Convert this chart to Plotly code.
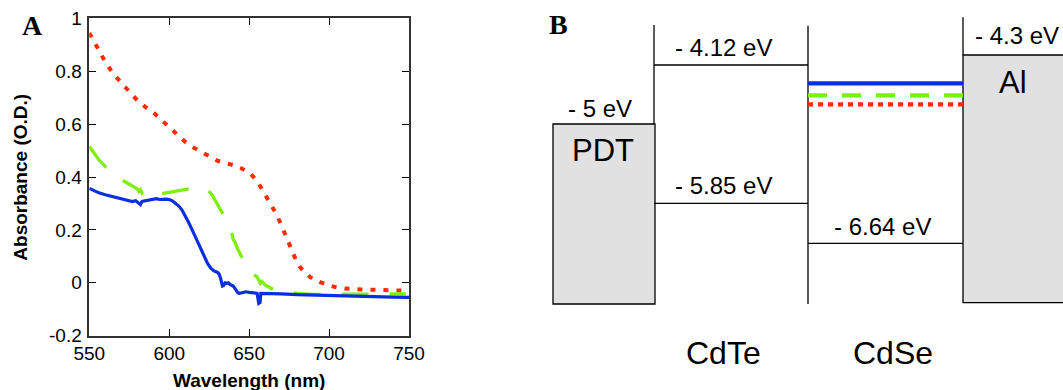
import plotly.graph_objects as go

# ---------------- Panel A data: absorbance spectra ----------------
red_wl = [550, 555, 560, 565, 570, 575, 580, 585, 590, 595, 600, 605, 610, 615, 620, 625, 630,
          635, 640, 645, 650, 655, 658, 661, 664, 667, 670, 673, 676, 679, 682, 685, 688, 692,
          696, 700, 705, 710, 720, 730, 740, 748]
red_abs = [0.945, 0.89, 0.835, 0.79, 0.755, 0.72, 0.69, 0.665, 0.645, 0.615, 0.59, 0.56, 0.533,
           0.512, 0.495, 0.478, 0.462, 0.453, 0.445, 0.433, 0.418, 0.385, 0.355, 0.325, 0.29,
           0.26, 0.22, 0.175, 0.13, 0.09, 0.058, 0.04, 0.022, 0.008, -0.003, -0.01, -0.018,
           -0.022, -0.025, -0.027, -0.029, -0.03]

green_wl = [550, 553, 556, 560, 563, 567, 570, 573, 576, 578, 580, 581, 582, 583, 584, 586, 588,
            592, 596, 600, 605, 610, 615, 620, 624, 627, 629, 631, 633, 635, 637, 639, 640, 641,
            643, 645, 647, 649, 651, 653, 655, 656, 657, 658, 660, 662, 665, 670, 675, 680, 690,
            700, 710, 720, 730, 740, 748]
green_abs = [0.515, 0.49, 0.465, 0.44, 0.425, 0.405, 0.39, 0.38, 0.37, 0.362, 0.355, 0.345, 0.352,
             0.34, 0.348, 0.338, 0.34, 0.338, 0.338, 0.342, 0.348, 0.353, 0.358, 0.36, 0.352,
             0.33, 0.31, 0.29, 0.27, 0.245, 0.22, 0.19, 0.165, 0.155, 0.125, 0.1, 0.078, 0.06,
             0.045, 0.03, 0.022, 0.01, -0.002, 0.005, -0.008, -0.015, -0.025, -0.032, -0.036,
             -0.04, -0.044, -0.043, -0.042, -0.042, -0.042, -0.042, -0.042]

blue_wl = [550, 553, 556, 560, 565, 570, 574, 577, 579, 581, 582, 583, 585, 588, 590, 592, 594,
           596, 598, 600, 602, 604, 606, 608, 610, 612, 614, 616, 618, 620, 622, 624, 626, 628,
           630, 631, 632, 632.7, 633.3, 634, 635, 636, 637, 638, 639, 640, 641, 642, 643, 644,
           646, 648, 650, 652, 654, 655, 656, 656.8, 657.3, 660, 670, 680, 690, 700, 710, 720,
           730, 740, 750]
blue_abs = [0.357, 0.347, 0.34, 0.333, 0.325, 0.318, 0.312, 0.307, 0.31, 0.303, 0.296, 0.308,
            0.31, 0.312, 0.314, 0.318, 0.315, 0.317, 0.316, 0.315, 0.31, 0.3, 0.29, 0.275, 0.255,
            0.23, 0.205, 0.178, 0.15, 0.12, 0.095, 0.073, 0.055, 0.045, 0.04, 0.035, 0.02, -0.005,
            -0.012, -0.01, 0.0, -0.002, 0.0, -0.006, -0.008, -0.012, -0.02, -0.03, -0.038, -0.04,
            -0.038, -0.034, -0.036, -0.038, -0.04, -0.04, -0.078, -0.075, -0.04, -0.04, -0.042,
            -0.045, -0.047, -0.048, -0.05, -0.051, -0.052, -0.054, -0.055]

x_ticks = [550, 600, 650, 700, 750]
y_ticks = [-0.2, 0, 0.2, 0.4, 0.6, 0.8, 1]
y_tick_text = ["-0.2", "0", "0.2", "0.4", "0.6", "0.8", "1"]

RED = "#ff2a00"
GREEN = "#80ee10"
BLUE = "#0a2ee0"

# ---------------- Panel B data: schematic energy diagram ----------------
# schematic positions (diagram units; not to scale, as in the original sketch)
layer_names = ["PDT", "CdTe", "CdSe", "Al"]
layer_left = [553, 654, 808, 963]
layer_right = [655, 808, 963, 1075]
diagram_top = [25, 25, 25.7, 17.3]
diagram_bottom = [304, 304, 304, 302.7]
pdt_level_label, pdt_level_y = "- 5 eV", 124
al_level_label, al_level_y = "- 4.3 eV", 55
cdte_levels = [("- 4.12 eV", 65), ("- 5.85 eV", 203.3)]
cdse_vb_label, cdse_vb_y = "- 6.64 eV", 243.3
cdse_cb_y = [83.3, 95.3, 104.3]          # blue, green, red samples
cdse_cb_colors = [BLUE, GREEN, RED]
cdse_cb_dash = ["solid", "19px,15px", "5px,5px"]

FONT = "Liberation Sans, Arial, Helvetica, sans-serif"

fig = go.Figure()
fig.add_trace(go.Scatter(x=red_wl, y=red_abs, mode="lines",
                         line=dict(color=RED, width=4, dash="5px,8px"), showlegend=False))
fig.add_trace(go.Scatter(x=green_wl, y=green_abs, mode="lines",
                         line=dict(color=GREEN, width=3.3, dash="27px,21px"), showlegend=False))
fig.add_trace(go.Scatter(x=blue_wl, y=blue_abs, mode="lines",
                         line=dict(color=BLUE, width=3.2), showlegend=False))

W, H = 1063, 390
fig.update_layout(
    template="none",
    width=W, height=H, margin=dict(l=0, r=0, t=0, b=0, pad=0, autoexpand=False),
    paper_bgcolor="white", plot_bgcolor="white",
    font=dict(family=FONT, color="black", size=19),
    xaxis=dict(domain=[89.3 / W, 409 / W], range=[550, 750], tickvals=x_ticks,
               ticks="inside", ticklen=7, tickcolor="black", showline=True,
               linecolor="#333", linewidth=1.5, mirror="ticks", showgrid=False,
               zeroline=False, tickfont=dict(size=19), anchor="y", automargin=False),
    yaxis=dict(domain=[(H - 335.7) / H, (H - 18.3) / H], range=[-0.2, 1],
               tickvals=y_ticks, ticktext=y_tick_text, ticklabelstandoff=2,
               ticks="inside", ticklen=7, tickcolor="black", showline=True,
               linecolor="#333", linewidth=1.5, mirror="ticks", showgrid=False,
               zeroline=False, tickfont=dict(size=19), anchor="x", automargin=False),
    xaxis2=dict(domain=[540 / W, 1], range=[540, 1063], visible=False, anchor="y2",
                automargin=False),
    yaxis2=dict(domain=[0, 1], range=[390, 0], visible=False, anchor="x2",
                automargin=False),
)

ann = []
# panel A titles
ann.append(dict(text="<b>Wavelength (nm)</b>", x=(89.3 + 409) / 2 / W, y=1 - 380 / H,
                xref="paper", yref="paper", showarrow=False, font=dict(size=19),
                xanchor="center", yanchor="middle"))
ann.append(dict(text="<b>Absorbance (O.D.)</b>", x=20.7 / W, y=1 - 177 / H, textangle=-90,
                xref="paper", yref="paper", showarrow=False, font=dict(size=19),
                xanchor="center", yanchor="middle"))
ann.append(dict(text="<b>A</b>", x=32 / W, y=1 - 26 / H, xref="paper", yref="paper",
                showarrow=False, font=dict(size=28, family="Liberation Serif, Times New Roman, serif"),
                xanchor="center", yanchor="middle"))
ann.append(dict(text="<b>B</b>", x=558 / W, y=1 - 25 / H, xref="paper", yref="paper",
                showarrow=False, font=dict(size=28, family="Liberation Serif, Times New Roman, serif"),
                xanchor="center", yanchor="middle"))

shapes = []
LINE = dict(color="black", width=1.3)
# PDT box
shapes.append(dict(type="rect", xref="x2", yref="y2", x0=layer_left[0], x1=layer_right[0],
                   y0=pdt_level_y, y1=diagram_bottom[0], fillcolor="#e1e1e1", line=LINE, layer="below"))
# Al box
shapes.append(dict(type="rect", xref="x2", yref="y2", x0=layer_left[3], x1=layer_right[3],
                   y0=al_level_y, y1=diagram_bottom[3], fillcolor="#e1e1e1", line=LINE, layer="below"))
# vertical boundaries
shapes.append(dict(type="line", xref="x2", yref="y2", x0=layer_left[1], x1=layer_left[1],
                   y0=diagram_top[1], y1=pdt_level_y, line=LINE))
shapes.append(dict(type="line", xref="x2", yref="y2", x0=layer_left[2], x1=layer_left[2],
                   y0=diagram_top[2], y1=diagram_bottom[2], line=LINE))
shapes.append(dict(type="line", xref="x2", yref="y2", x0=layer_left[3], x1=layer_left[3],
                   y0=diagram_top[3], y1=al_level_y, line=LINE))
# CdTe levels
for lab, yv in cdte_levels:
    shapes.append(dict(type="line", xref="x2", yref="y2", x0=layer_left[1], x1=layer_right[1],
                       y0=yv, y1=yv, line=LINE))
    ann.append(dict(text=lab, x=(layer_left[1] + layer_right[1]) / 2 - 8, y=yv - 18,
                    xref="x2", yref="y2", showarrow=False, font=dict(size=24),
                    xanchor="center", yanchor="middle"))
# CdSe VB
shapes.append(dict(type="line", xref="x2", yref="y2", x0=layer_left[2], x1=layer_right[2],
                   y0=cdse_vb_y, y1=cdse_vb_y, line=LINE))
ann.append(dict(text=cdse_vb_label, x=(layer_left[2] + layer_right[2]) / 2 - 3.5, y=cdse_vb_y - 17,
                xref="x2", yref="y2", showarrow=False, font=dict(size=24),
                xanchor="center", yanchor="middle"))
# CdSe CB (three samples)
for yv, col, dsh in zip(cdse_cb_y, cdse_cb_colors, cdse_cb_dash):
    shapes.append(dict(type="line", xref="x2", yref="y2", x0=layer_left[2], x1=layer_right[2],
                       y0=yv, y1=yv, line=dict(color=col, width=4.3, dash=dsh)))
# level labels
ann.append(dict(text=pdt_level_label, x=600, y=pdt_level_y - 16, xref="x2", yref="y2",
                showarrow=False, font=dict(size=24), xanchor="center", yanchor="middle"))
ann.append(dict(text=al_level_label, x=1017, y=al_level_y - 20, xref="x2", yref="y2",
                showarrow=False, font=dict(size=24), xanchor="center", yanchor="middle"))
ann.append(dict(text=layer_names[0], x=603, y=150, xref="x2", yref="y2",
                showarrow=False, font=dict(size=31), xanchor="center", yanchor="middle"))
ann.append(dict(text=layer_names[3], x=1013, y=82, xref="x2", yref="y2",
                showarrow=False, font=dict(size=31), xanchor="center", yanchor="middle"))
ann.append(dict(text=layer_names[1], x=723, y=353, xref="x2", yref="y2",
                showarrow=False, font=dict(size=32), xanchor="center", yanchor="middle"))
ann.append(dict(text=layer_names[2], x=893, y=353, xref="x2", yref="y2",
                showarrow=False, font=dict(size=32), xanchor="center", yanchor="middle"))

fig.update_layout(annotations=ann, shapes=shapes)
fig.write_html("out.html")
